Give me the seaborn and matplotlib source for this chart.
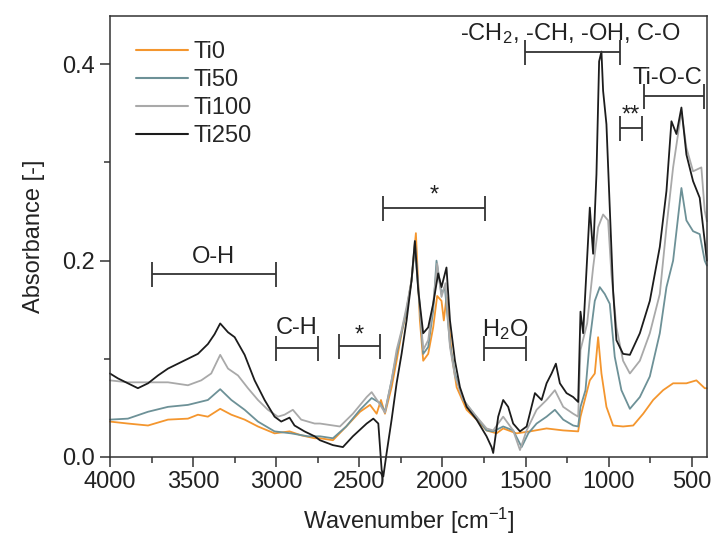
import numpy as np
import pandas as pd
import matplotlib
matplotlib.use("Agg")
import matplotlib.pyplot as plt
import seaborn as sns
from matplotlib.ticker import MultipleLocator, FixedLocator, FormatStrFormatter

# ===============================
# Data
# ===============================

wn_ti0 = [4000, 3892, 3771, 3651, 3531, 3471, 3411, 3337, 3270, 3190, 3110, 3010,
          2920, 2850, 2769, 2737, 2659, 2579, 2496, 2436, 2396, 2370, 2346, 2306,
          2276, 2246, 2216, 2186, 2160, 2136, 2116, 2086, 2056, 2032, 2006, 1992,
          1976, 1945, 1915, 1855, 1795, 1735, 1675, 1635, 1555, 1474, 1374, 1274,
          1184, 1170, 1114, 1084, 1064, 1044, 1014, 974, 914, 853, 793, 733, 673,
          613, 533, 473, 423, 410]
abs_ti0 = [0.036, 0.034, 0.032, 0.038, 0.039, 0.043, 0.041, 0.049, 0.043, 0.038, 0.031, 0.024,
           0.026, 0.022, 0.019, 0.019, 0.017, 0.031, 0.046, 0.053, 0.044, 0.058, 0.044, 0.071,
           0.098, 0.126, 0.149, 0.180, 0.228, 0.139, 0.098, 0.105, 0.132, 0.164, 0.159, 0.139,
           0.163, 0.105, 0.071, 0.048, 0.038, 0.027, 0.024, 0.029, 0.024, 0.026, 0.029, 0.027,
           0.026, 0.041, 0.078, 0.085, 0.122, 0.085, 0.051, 0.032, 0.031, 0.032, 0.044, 0.058, 0.068,
           0.075, 0.075, 0.078, 0.070, 0.070]

wn_ti50 = [4000, 3892, 3771, 3651, 3531, 3411, 3337, 3270, 3190, 3110, 3010, 2910,
           2810, 2737, 2659, 2579, 2496, 2426, 2376, 2346, 2306, 2276, 2246, 2216,
           2186, 2166, 2136, 2116, 2086, 2056, 2036, 2006, 1986, 1955, 1925, 1875,
           1815, 1735, 1695, 1635, 1575, 1524, 1484, 1434, 1374, 1324, 1274, 1214,
           1184, 1170, 1140, 1114, 1084, 1054, 1024, 994, 964, 924, 873, 813, 753,
           693, 653, 613, 563, 533, 493, 453, 423, 410]
abs_ti50 = [0.038, 0.039, 0.046, 0.051, 0.053, 0.058, 0.069, 0.058, 0.048, 0.036, 0.026, 0.024,
            0.021, 0.021, 0.019, 0.031, 0.048, 0.060, 0.055, 0.046, 0.078, 0.105, 0.127, 0.150,
            0.180, 0.215, 0.150, 0.105, 0.112, 0.149, 0.200, 0.166, 0.173, 0.115, 0.085, 0.058,
            0.045, 0.027, 0.026, 0.031, 0.027, 0.010, 0.024, 0.034, 0.041, 0.048, 0.038, 0.032,
            0.031, 0.051, 0.068, 0.119, 0.159, 0.173, 0.166, 0.156, 0.102, 0.068, 0.049, 0.061, 0.082,
            0.126, 0.173, 0.200, 0.274, 0.241, 0.230, 0.227, 0.200, 0.195]

wn_ti100 = [4000, 3892, 3771, 3651, 3531, 3451, 3391, 3337, 3290, 3230, 3170, 3110,
            3050, 2990, 2950, 2900, 2850, 2769, 2737, 2617, 2539, 2456, 2426, 2386,
            2346, 2306, 2276, 2246, 2216, 2186, 2166, 2136, 2116, 2086, 2056, 2032,
            2006, 1982, 1955, 1925, 1875, 1815, 1735, 1695, 1635, 1575, 1534, 1494,
            1434, 1374, 1324, 1274, 1214, 1184, 1170, 1130, 1094, 1064, 1034, 1004,
            984, 954, 914, 873, 813, 753, 693, 653, 613, 563, 533, 493, 443, 423, 410]
abs_ti100 = [0.078, 0.076, 0.076, 0.076, 0.073, 0.078, 0.085, 0.104, 0.090, 0.083, 0.070, 0.058,
             0.048, 0.041, 0.043, 0.048, 0.038, 0.034, 0.034, 0.031, 0.044, 0.061, 0.066, 0.056,
             0.045, 0.078, 0.109, 0.129, 0.153, 0.180, 0.220, 0.153, 0.109, 0.119, 0.156, 0.197,
             0.163, 0.177, 0.112, 0.082, 0.058, 0.045, 0.029, 0.027, 0.041, 0.027, 0.007, 0.027,
             0.048, 0.058, 0.068, 0.051, 0.044, 0.041, 0.109, 0.136, 0.193, 0.234, 0.247, 0.241,
             0.186, 0.132, 0.098, 0.085, 0.098, 0.126, 0.166, 0.234, 0.295, 0.352, 0.315, 0.291,
             0.295, 0.251, 0.240]

wn_ti250 = [4000, 3952, 3892, 3832, 3771, 3711, 3651, 3591, 3531, 3471, 3411, 3371,
            3337, 3290, 3250, 3190, 3130, 3070, 3010, 2970, 2920, 2890, 2830, 2769,
            2737, 2659, 2599, 2539, 2456, 2416, 2386, 2366, 2356, 2336, 2306, 2276,
            2246, 2216, 2186, 2166, 2146, 2116, 2086, 2056, 2026, 2006, 1976, 1955,
            1925, 1895, 1855, 1795, 1735, 1705, 1695, 1665, 1635, 1605, 1575, 1534,
            1494, 1444, 1404, 1374, 1344, 1318, 1294, 1254, 1214, 1184, 1170, 1154,
            1114, 1094, 1074, 1058, 1044, 1034, 1014, 994, 974, 954, 914, 873, 813,
            753, 693, 653, 623, 593, 563, 533, 493, 453, 423, 410]
abs_ti250 = [0.085, 0.080, 0.075, 0.070, 0.075, 0.083, 0.090, 0.095, 0.100, 0.105, 0.115, 0.125,
             0.136, 0.127, 0.122, 0.104, 0.078, 0.058, 0.041, 0.036, 0.040, 0.032, 0.026, 0.021,
             0.017, 0.012, 0.010, 0.021, 0.034, 0.039, 0.034, -0.013, -0.020, 0.004, 0.038, 0.075,
             0.105, 0.139, 0.180, 0.220, 0.170, 0.126, 0.132, 0.156, 0.187, 0.173, 0.193, 0.139,
             0.098, 0.071, 0.051, 0.038, 0.021, 0.010, 0.004, 0.041, 0.058, 0.051, 0.034, 0.026,
             0.031, 0.065, 0.058, 0.075, 0.085, 0.095, 0.075, 0.065, 0.061, 0.056, 0.148, 0.126,
             0.254, 0.207, 0.288, 0.403, 0.413, 0.373, 0.339, 0.254, 0.170, 0.119, 0.105, 0.104, 0.126,
             0.159, 0.214, 0.271, 0.342, 0.329, 0.356, 0.308, 0.281, 0.264, 0.220, 0.200]

samples = ["Ti0", "Ti50", "Ti100", "Ti250"]
colors = ["#f4962e", "#6d9197", "#a9a9a9", "#1c1c1c"]

# band labels: text, text x, text y, bracket start, bracket end, bracket y
band_text = ["O-H", "C-H", "*", "*", "H$_2$O", "-CH$_2$, -CH, -OH, C-O", "**", "Ti-O-C"]
band_text_x = [3375, 2875, 2500, 2050, 1625, 1228, 865, 650]
band_text_y = [0.204, 0.131, 0.124, 0.266, 0.130, 0.431, 0.348, 0.386]
band_from = [3750, 3000, 2625, 2360, 1750, 1505, 930, 790]
band_to = [3000, 2750, 2375, 1745, 1500, 930, 800, 425]
band_y = [0.1865, 0.111, 0.113, 0.254, 0.111, 0.413, 0.335, 0.368]

# ===============================
# Long table for seaborn
# ===============================

frames = []
for name, w, a in zip(samples,
                      [wn_ti0, wn_ti50, wn_ti100, wn_ti250],
                      [abs_ti0, abs_ti50, abs_ti100, abs_ti250]):
    frames.append(pd.DataFrame({"wn": w, "absorbance": a, "sample": name}))
spectra = pd.concat(frames, ignore_index=True)

# ===============================
# Plot
# ===============================

sns.set_theme(style="ticks")
plt.rcParams["font.family"] = ["Liberation Sans", "DejaVu Sans"]
plt.rcParams["mathtext.default"] = "regular"
fs = 17

fig, ax = plt.subplots(figsize=(7.14, 5.42), dpi=100)
fig.subplots_adjust(left=0.154, right=0.990, bottom=0.157, top=0.970)

sns.lineplot(data=spectra, x="wn", y="absorbance", hue="sample",
             hue_order=samples, palette=colors, estimator=None,
             linewidth=1.3, clip_on=False, ax=ax)

for i in range(len(band_text)):
    mid = (band_from[i] + band_to[i]) / 2
    half = abs(band_from[i] - band_to[i]) / 2
    ax.errorbar(mid, band_y[i], xerr=half, fmt="none", ecolor="#333333",
                elinewidth=1.3, capsize=9, capthick=1.3)
    ax.text(band_text_x[i], band_text_y[i], band_text[i], fontsize=fs,
            ha="center", va="center", color="#222222")

ax.set_xlim(4000, 410)
ax.set_ylim(0.0, 0.449)
ax.xaxis.set_major_locator(MultipleLocator(500))
ax.xaxis.set_minor_locator(MultipleLocator(250))
ax.yaxis.set_major_locator(FixedLocator([0.0, 0.2, 0.4]))
ax.yaxis.set_minor_locator(FixedLocator([0.1, 0.3]))
ax.yaxis.set_major_formatter(FormatStrFormatter("%.1f"))
ax.tick_params(which="major", direction="out", length=7, width=1.1,
               labelsize=fs, color="#333333", labelcolor="#222222")
ax.tick_params(which="minor", direction="out", length=4, width=1.1, color="#333333")

for sp in ax.spines.values():
    sp.set_visible(True)
    sp.set_linewidth(1.1)
    sp.set_color("#333333")

ax.set_xlabel("Wavenumber [cm$^{-1}$]", fontsize=fs, color="#222222", labelpad=9)
ax.set_ylabel("Absorbance [-]", fontsize=fs, color="#222222", labelpad=13)

leg = ax.legend(loc="upper left", bbox_to_anchor=(0.02, 0.975), frameon=False,
                fontsize=fs, handlelength=2.2, handletextpad=0.25,
                labelspacing=0.25, borderaxespad=0.2)
for line in leg.get_lines():
    line.set_linewidth(1.5)

plt.savefig("out.png", dpi=100)
plt.close()
